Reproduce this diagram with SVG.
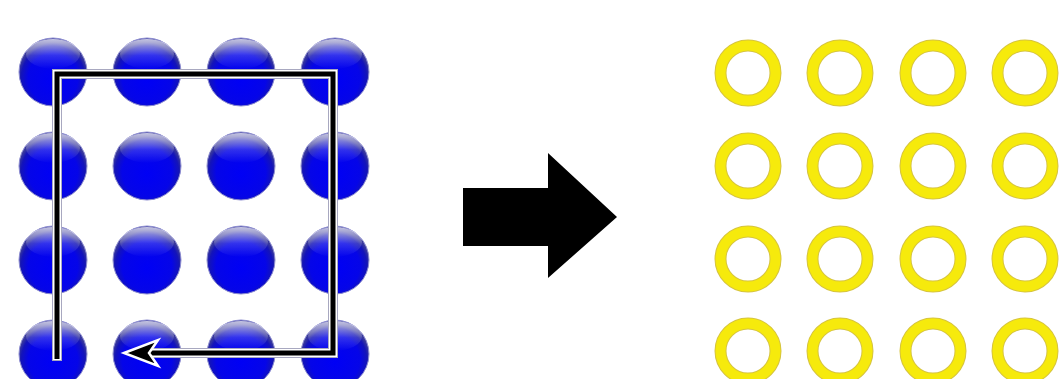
<svg xmlns="http://www.w3.org/2000/svg" width="1064" height="379" viewBox="0 0 1064 379">
<defs>
<radialGradient id="ballG" cx="50%" cy="58%" r="52%" fx="50%" fy="62%">
<stop offset="0" stop-color="#0000f5"/>
<stop offset="0.7" stop-color="#0505e8"/>
<stop offset="0.9" stop-color="#1414b8"/>
<stop offset="1" stop-color="#3a3a9c"/>
</radialGradient>
<linearGradient id="hiG" x1="0" y1="0" x2="0" y2="1">
<stop offset="0" stop-color="#ffffff" stop-opacity="0.7"/>
<stop offset="0.55" stop-color="#ffffff" stop-opacity="0.18"/>
<stop offset="1" stop-color="#ffffff" stop-opacity="0"/>
</linearGradient>
<g id="ball">
<circle r="34" fill="url(#ballG)" stroke="#8c8cd0" stroke-width="1"/>
<ellipse cx="0" cy="-18" rx="27" ry="15" fill="url(#hiG)"/>
</g>
<g id="ring">
<circle r="27.5" fill="none" stroke="#d6c440" stroke-width="12"/>
<circle r="27.5" fill="none" stroke="#f6ea0c" stroke-width="10"/>
</g>
</defs>
<style>
.halo{fill:none;stroke:#a8a8c0;stroke-width:10;stroke-linejoin:miter}
.white{fill:none;stroke:#ffffff;stroke-width:8;stroke-linejoin:miter}
.line{fill:none;stroke:#000000;stroke-width:5;stroke-linejoin:miter}
</style>
<rect width="1064" height="379" fill="#ffffff"/>
<g id="spheres">
<g id="s11"><use href="#ball" x="53" y="72"/></g>
<g id="s12"><use href="#ball" x="147" y="72"/></g>
<g id="s13"><use href="#ball" x="241" y="72"/></g>
<g id="s14"><use href="#ball" x="335" y="72"/></g>
<g id="s21"><use href="#ball" x="53" y="166"/></g>
<g id="s22"><use href="#ball" x="147" y="166"/></g>
<g id="s23"><use href="#ball" x="241" y="166"/></g>
<g id="s24"><use href="#ball" x="335" y="166"/></g>
<g id="s31"><use href="#ball" x="53" y="260"/></g>
<g id="s32"><use href="#ball" x="147" y="260"/></g>
<g id="s33"><use href="#ball" x="241" y="260"/></g>
<g id="s34"><use href="#ball" x="335" y="260"/></g>
<g id="s41"><use href="#ball" x="53" y="354"/></g>
<g id="s42"><use href="#ball" x="147" y="354"/></g>
<g id="s43"><use href="#ball" x="241" y="354"/></g>
<g id="s44"><use href="#ball" x="335" y="354"/></g>
</g>
<g id="connectors">
<path class="halo" d="M57,361 L57,74 L333,74 L333,353 L150,353"/>
<path class="white" d="M57,360 L57,74 L333,74 L333,353 L150,353"/>
<path class="line" d="M57,359 L57,74 L333,74 L333,353 L145,353"/>
<polygon points="124,353 158,340 149,353 158,366" fill="#000" stroke="#ffffff" stroke-width="2.5" stroke-linejoin="miter"/>
</g>
<g id="arrow">
<polygon points="463,188 548,188 548,153 617,217 548,278 548,246 463,246" fill="#000"/>
</g>
<g id="rings">
<g id="r11"><use href="#ring" x="748" y="73"/></g>
<g id="r12"><use href="#ring" x="840" y="73"/></g>
<g id="r13"><use href="#ring" x="933" y="73"/></g>
<g id="r14"><use href="#ring" x="1025" y="73"/></g>
<g id="r21"><use href="#ring" x="748" y="166"/></g>
<g id="r22"><use href="#ring" x="840" y="166"/></g>
<g id="r23"><use href="#ring" x="933" y="166"/></g>
<g id="r24"><use href="#ring" x="1025" y="166"/></g>
<g id="r31"><use href="#ring" x="748" y="259"/></g>
<g id="r32"><use href="#ring" x="840" y="259"/></g>
<g id="r33"><use href="#ring" x="933" y="259"/></g>
<g id="r34"><use href="#ring" x="1025" y="259"/></g>
<g id="r41"><use href="#ring" x="748" y="351"/></g>
<g id="r42"><use href="#ring" x="840" y="351"/></g>
<g id="r43"><use href="#ring" x="933" y="351"/></g>
<g id="r44"><use href="#ring" x="1025" y="351"/></g>
</g>
</svg>
